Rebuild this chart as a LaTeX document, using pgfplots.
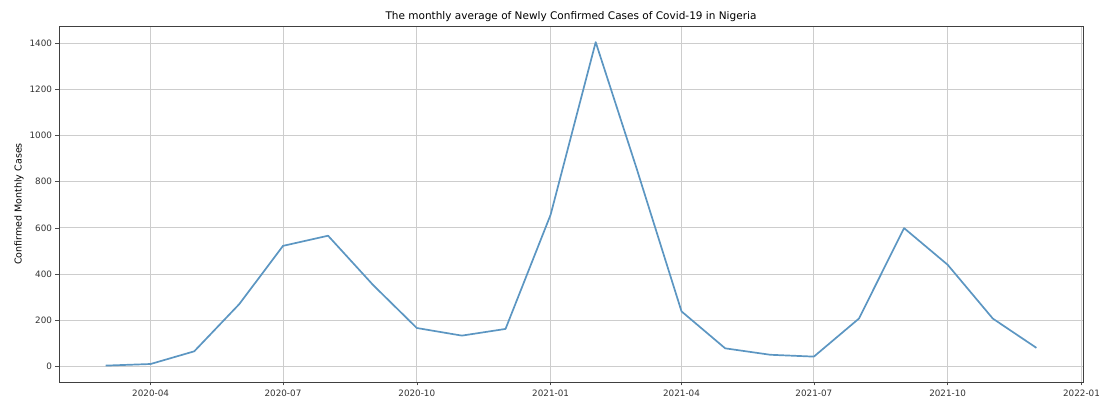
\documentclass[border=0pt]{standalone}
\usepackage{pgfplots}
\pgfplotsset{compat=1.18}
\usepackage{fontspec}
\setmainfont{DejaVu Sans}
\definecolor{lineblue}{RGB}{92,150,194}
\definecolor{gridgray}{RGB}{205,205,205}
\begin{document}
\begin{tikzpicture}
\begin{axis}[
  scale only axis,
  width=1024pt, height=356pt,
  xmin=-32, xmax=672,
  ymin=-68, ymax=1475,
  xtick={31,122,214,306,396,487,579,671},
  xticklabels={2020-04,2020-07,2020-10,2021-01,2021-04,2021-07,2021-10,2022-01},
  ytick={0,200,400,600,800,1000,1200,1400},
  /pgf/number format/assume math mode=true,
  /pgf/number format/1000 sep={},
  tick label style={font=\fontsize{8.8}{10}\selectfont, text=black!80},
  xticklabel style={yshift=-1pt},
  grid=major,
  major grid style={gridgray, line width=0.8pt},
  tick align=outside,
  tick pos=left,
  major tick length=3.5pt,
  tick style={black!70, line width=0.6pt},
  axis line style={black!75, line width=0.8pt},
  title={The monthly average of Newly Confirmed Cases of Covid-19 in Nigeria},
  title style={font=\fontsize{10.5}{12}\selectfont, yshift=-5pt},
  ylabel={Confirmed Monthly Cases},
  ylabel style={font=\fontsize{9.5}{11}\selectfont, yshift=-1pt},
]
\addplot[lineblue, line width=1.7pt, line join=round] coordinates {
(0,3) (31,10) (61,65) (92,270) (122,522) (153,566) (184,352)
(214,166) (245,133) (275,162) (306,657) (337,1405) (365,860)
(396,238) (426,78) (457,50) (487,42) (518,207) (549,599)
(579,440) (610,207) (640,80)
};
\end{axis}
\path[use as bounding box] (-59pt,-21pt) rectangle (1057pt,382pt);
\end{tikzpicture}
\end{document}
